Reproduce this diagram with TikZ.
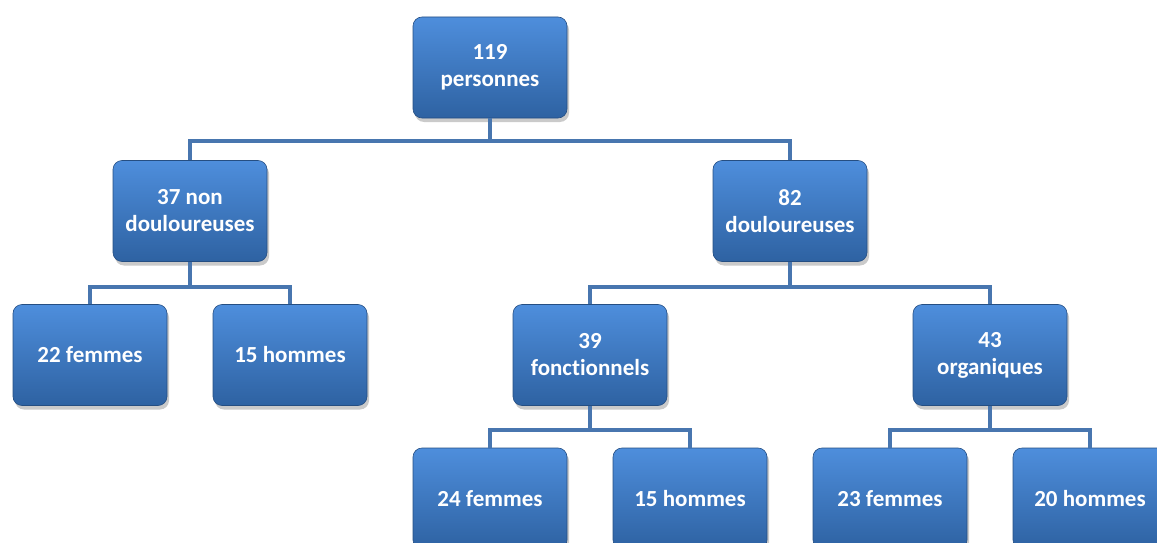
\documentclass[tikz,border=0pt]{standalone}
\usepackage{fontspec}
\setmainfont[Ligatures=NoCommon]{Carlito}
\usetikzlibrary{shadows}
\definecolor{boxtop}{RGB}{78,142,220}
\definecolor{boxbot}{RGB}{46,98,162}
\definecolor{conncol}{RGB}{72,118,175}
\tikzset{
  box/.style={draw=boxbot!80!black, line width=0.6pt, rounded corners=9pt,
    top color=boxtop, bottom color=boxbot, minimum width=154pt, minimum height=101pt,
    inner sep=2pt, align=center, text=white, font=\fontsize{23}{27}\selectfont\bfseries,
    drop shadow={shadow xshift=2pt, shadow yshift=-4pt, opacity=0.35, fill=black!60}},
  conn/.style={draw=conncol, line width=4pt}
}
\begin{document}
\begin{tikzpicture}[x=1pt,y=-1pt]
\useasboundingbox (0,0) rectangle (1157,543);
\node[box] (root) at (490,67.5) {119\\personnes};
\node[box] (nd) at (190,211) {37 non\\douloureuses};
\node[box] (d) at (790,211) {82\\douloureuses};
\node[box] (ndf) at (90,355) {22 femmes};
\node[box] (ndh) at (290,355) {15 hommes};
\node[box] (fo) at (590,355) {39\\fonctionnels};
\node[box] (or) at (990,355) {43\\organiques};
\node[box] (fof) at (490,498.5) {24 femmes};
\node[box] (foh) at (690,498.5) {15 hommes};
\node[box] (orf) at (890,498.5) {23 femmes};
\node[box] (orh) at (1090,498.5) {20 hommes};
\draw[conn] (root.south) -- ++(0,23) -| (nd.north);
\draw[conn] (root.south) -- ++(0,23) -| (d.north);
\draw[conn] (nd.south) -- ++(0,25) -| (ndf.north);
\draw[conn] (nd.south) -- ++(0,25) -| (ndh.north);
\draw[conn] (d.south) -- ++(0,25) -| (fo.north);
\draw[conn] (d.south) -- ++(0,25) -| (or.north);
\draw[conn] (fo.south) -- ++(0,24) -| (fof.north);
\draw[conn] (fo.south) -- ++(0,24) -| (foh.north);
\draw[conn] (or.south) -- ++(0,24) -| (orf.north);
\draw[conn] (or.south) -- ++(0,24) -| (orh.north);
\end{tikzpicture}
\end{document}
